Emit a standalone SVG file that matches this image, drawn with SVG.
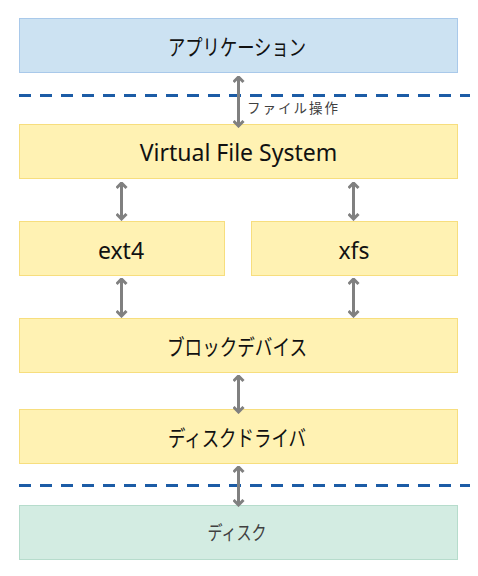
<svg xmlns="http://www.w3.org/2000/svg" width="478" height="576" viewBox="0 0 478 576">
<defs>
<style>
.app{fill:#CCE2F2;stroke:#A9C9EA;stroke-width:1}
.y{fill:#FFF2B3;stroke:#F7DE7E;stroke-width:1}
.disk{fill:#D3ECE2;stroke:#B6DCCC;stroke-width:1}
.t{font-family:"Noto Sans","Noto Sans CJK JP",sans-serif;fill:#111;text-anchor:middle}
.jp{font-size:22px}
.en{font-size:23px}
.dash{stroke:#1C5CA6;stroke-width:3;stroke-dasharray:12 9;fill:none}
.arr{stroke:#808080;stroke-width:3;fill:none}
</style>
<marker id="ah" viewBox="0 0 8 12" refX="6.5" refY="6" markerWidth="8" markerHeight="12" markerUnits="userSpaceOnUse" orient="auto-start-reverse">
<path d="M1.5,1 L6.5,6 L1.5,11" fill="none" stroke="#808080" stroke-width="3" stroke-linecap="butt" stroke-linejoin="miter"/>
</marker>
</defs>
<rect width="478" height="576" fill="#fff"/>
<g id="app"><rect class="app" x="19.5" y="18.5" width="438" height="54"/><text class="t jp" x="237" y="54.8" textLength="138" lengthAdjust="spacingAndGlyphs">アプリケーション</text></g>
<g id="vfs"><rect class="y" x="19.5" y="124.5" width="438" height="54"/><text class="t en" x="238.5" y="160.5">Virtual File System</text></g>
<g id="ext4"><rect class="y" x="19.5" y="221.5" width="205" height="54"/><text class="t en" x="121" y="258.5">ext4</text></g>
<g id="xfs"><rect class="y" x="251.5" y="221.5" width="206" height="54"/><text class="t en" x="354" y="258.5">xfs</text></g>
<g id="blockdev"><rect class="y" x="19.5" y="318.5" width="438" height="54"/><text class="t jp" x="237" y="355.2" textLength="140" lengthAdjust="spacingAndGlyphs">ブロックデバイス</text></g>
<g id="driver"><rect class="y" x="19.5" y="409.5" width="438" height="54"/><text class="t jp" x="237" y="445.8" textLength="138" lengthAdjust="spacingAndGlyphs">ディスクドライバ</text></g>
<g id="disk"><rect class="disk" x="19.5" y="505.5" width="438" height="54"/><text class="t" x="237" y="540.4" textLength="59" lengthAdjust="spacingAndGlyphs" style="font-size:19px;fill:#404040">ディスク</text></g>
<g id="boundaries">
<line class="dash" x1="19" y1="95.5" x2="470" y2="95.5"/>
<line class="dash" x1="19" y1="485.5" x2="470" y2="485.5"/>
</g>
<g id="connectors">
<line class="arr" x1="238.5" y1="77" x2="238.5" y2="126" marker-start="url(#ah)" marker-end="url(#ah)"/>
<text x="247" y="113.3" style="font-family:'Noto Sans','Noto Sans CJK JP',sans-serif;font-size:13.5px;letter-spacing:2px;fill:#404040">ファイル操作</text>
<line class="arr" x1="121.5" y1="183" x2="121.5" y2="219" marker-start="url(#ah)" marker-end="url(#ah)"/>
<line class="arr" x1="353.5" y1="183" x2="353.5" y2="219" marker-start="url(#ah)" marker-end="url(#ah)"/>
<line class="arr" x1="121.5" y1="279" x2="121.5" y2="316" marker-start="url(#ah)" marker-end="url(#ah)"/>
<line class="arr" x1="353.5" y1="279" x2="353.5" y2="316" marker-start="url(#ah)" marker-end="url(#ah)"/>
<line class="arr" x1="238.5" y1="376" x2="238.5" y2="412" marker-start="url(#ah)" marker-end="url(#ah)"/>
<line class="arr" x1="238.5" y1="467" x2="238.5" y2="505" marker-start="url(#ah)" marker-end="url(#ah)"/>
</g>
</svg>
